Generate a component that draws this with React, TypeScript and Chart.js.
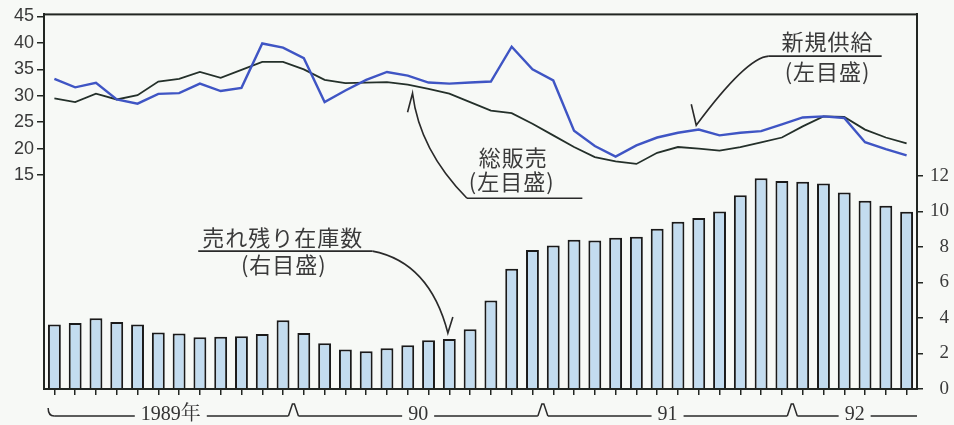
import React, { useEffect, useRef } from 'react';
import { Chart, registerables } from 'chart.js';

Chart.register(...registerables);

// ---- data ----
const months: string[] = [
  '1989/01', '1989/02', '1989/03', '1989/04', '1989/05', '1989/06', '1989/07', '1989/08', '1989/09', '1989/10', '1989/11', '1989/12',
  '1990/01', '1990/02', '1990/03', '1990/04', '1990/05', '1990/06', '1990/07', '1990/08', '1990/09', '1990/10', '1990/11', '1990/12',
  '1991/01', '1991/02', '1991/03', '1991/04', '1991/05', '1991/06', '1991/07', '1991/08', '1991/09', '1991/10', '1991/11', '1991/12',
  '1992/01', '1992/02', '1992/03', '1992/04', '1992/05', '1992/06',
];

// 売れ残り在庫数 (右目盛)
const inventory: number[] = [
  3.63, 3.72, 3.98, 3.78, 3.63, 3.18, 3.12, 2.92, 2.95, 2.97, 3.10, 3.87,
  3.16, 2.58, 2.22, 2.13, 2.30, 2.47, 2.75, 2.82, 3.37, 4.99, 6.77, 7.83,
  8.08, 8.41, 8.36, 8.52, 8.58, 9.03, 9.42, 9.63, 10.0, 10.92, 11.87, 11.72,
  11.67, 11.57, 11.07, 10.6, 10.32, 9.98,
];

// 新規供給 (左目盛)
const newSupply: number[] = [
  33.2, 31.6, 32.45, 29.3, 28.5, 30.35, 30.5, 32.3, 30.9, 31.5, 39.9, 39.1,
  37.1, 28.8, 31.0, 33.0, 34.5, 33.8, 32.5, 32.3, 32.5, 32.7, 39.3, 35.0,
  32.9, 23.4, 20.5, 18.5, 20.6, 22.1, 23.0, 23.6, 22.5, 23.0, 23.3, 24.6,
  25.9, 26.1, 25.8, 21.2, 19.9, 18.7,
];

// 総販売 (左目盛)
const totalSales: number[] = [
  29.5, 28.8, 30.4, 29.3, 30.1, 32.7, 33.2, 34.5, 33.4, 34.9, 36.4, 36.4,
  35.0, 33.0, 32.4, 32.5, 32.6, 32.1, 31.3, 30.4, 28.8, 27.2, 26.7, 24.7,
  22.5, 20.3, 18.4, 17.6, 17.1, 19.2, 20.3, 20.0, 19.6, 20.3, 21.2, 22.1,
  24.2, 26.1, 26.0, 23.6, 22.1, 21.0,
];

const leftTicks: number[] = [15, 20, 25, 30, 35, 40, 45];
const rightTicks: number[] = [0, 2, 4, 6, 8, 10, 12];
const yearLabels: string[] = ['1989年', '90', '91', '92'];
const yearBoundaries: number[] = [-0.3, 11.5, 23.5, 35.5];

// annotation placements in (category index, left-axis value)
type Note = {
  lines: string[];
  textAt: [number, number][];
  underline: [[number, number], [number, number]];
  curve: [[number, number], [number, number], [number, number]];
  barb: [number, number];
};
const notes: Note[] = [
  {
    lines: ['新規供給', '(左目盛)'],
    textAt: [[37.2, 40.3], [37.2, 34.6]],
    underline: [[34.37, 37.5], [39.8, 37.5]],
    curve: [[34.37, 37.5], [33.3, 37.27], [30.88, 24.41]],
    barb: [30.64, 28.4],
  },
  {
    lines: ['総販売', '(左目盛)'],
    textAt: [[22.07, 18.35], [22.0, 13.83]],
    underline: [[19.85, 10.61], [25.4, 10.61]],
    curve: [[19.85, 10.61], [17.57, 19.69], [17.23, 30.46]],
    barb: [16.99, 26.87],
  },
  {
    lines: ['売れ残り在庫数', '(右目盛)'],
    textAt: [[10.99, 3.06], [11.04, -2.05]],
    underline: [[6.92, 0.6], [15.3, 0.6]],
    curve: [[15.3, 0.6], [18.05, -1.48], [18.93, -14.9]],
    barb: [19.17, -11.88],
  },
];

const INK = '#222622';
const TEXT = '#3a3a3a';

const decorPlugin = {
  id: 'decor',
  beforeDraw(chart: any) {
    const { ctx, width, height } = chart;
    ctx.save();
    ctx.fillStyle = '#f7f9f6';
    ctx.fillRect(0, 0, width, height);
    ctx.restore();
  },
  afterDraw(chart: any) {
    const { ctx, chartArea: a, scales } = chart;
    const xs = scales.x;
    const ys = scales.y;
    const P = (i: number, v: number): [number, number] => [xs.getPixelForValue(i), ys.getPixelForValue(v)];
    ctx.save();
    // frame
    ctx.strokeStyle = INK;
    ctx.lineWidth = 2;
    ctx.strokeRect(a.left, a.top, a.right - a.left, a.bottom - a.top);

    // annotations
    ctx.lineWidth = 1.6;
    ctx.strokeStyle = '#2a2a2a';
    ctx.fillStyle = TEXT;
    ctx.font = '22px "Noto Sans CJK JP"';
    (ctx as any).letterSpacing = '1px';
    ctx.textAlign = 'center';
    ctx.textBaseline = 'middle';
    notes.forEach((n) => {
      n.lines.forEach((t, k) => {
        const [x, y] = P(n.textAt[k][0], n.textAt[k][1]);
        ctx.fillText(t, x, y);
      });
      const u0 = P(n.underline[0][0], n.underline[0][1]);
      const u1 = P(n.underline[1][0], n.underline[1][1]);
      ctx.beginPath();
      ctx.moveTo(u0[0], u0[1]);
      ctx.lineTo(u1[0], u1[1]);
      ctx.stroke();
      const c0 = P(n.curve[0][0], n.curve[0][1]);
      const c1 = P(n.curve[1][0], n.curve[1][1]);
      const c2 = P(n.curve[2][0], n.curve[2][1]);
      const b = P(n.barb[0], n.barb[1]);
      ctx.beginPath();
      ctx.moveTo(c0[0], c0[1]);
      ctx.quadraticCurveTo(c1[0], c1[1], c2[0], c2[1]);
      ctx.lineTo(b[0], b[1]);
      ctx.stroke();
    });

    // year axis
    (ctx as any).letterSpacing = '0px';
    const yL = a.bottom + 27;
    ctx.font = '20px "Liberation Serif", "Noto Serif CJK JP", "Noto Sans CJK JP"';
    ctx.fillStyle = '#333';
    ctx.strokeStyle = '#2a2a2a';
    ctx.lineWidth = 1.5;
    const bounds = yearBoundaries.map((v) => xs.getPixelForValue(v));
    bounds.push(a.right);
    // hook at start
    ctx.beginPath();
    ctx.moveTo(bounds[0], yL - 8);
    ctx.quadraticCurveTo(bounds[0], yL, bounds[0] + 6, yL);
    ctx.stroke();
    for (let j = 0; j < yearLabels.length; j++) {
      const s = bounds[j] + (j === 0 ? 6 : 5);
      const e = bounds[j + 1] - (j === yearLabels.length - 1 ? 0 : 5);
      const mid = (bounds[j] + bounds[j + 1]) / 2;
      const w = ctx.measureText(yearLabels[j]).width;
      ctx.fillText(yearLabels[j], mid, yL - 1);
      ctx.beginPath();
      ctx.moveTo(s, yL);
      ctx.lineTo(mid - w / 2 - 6, yL);
      ctx.moveTo(mid + w / 2 + 6, yL);
      ctx.lineTo(e, yL);
      ctx.stroke();
    }
    for (let j = 1; j < yearLabels.length; j++) {
      const bx = bounds[j];
      ctx.beginPath();
      ctx.moveTo(bx - 5, yL);
      ctx.lineTo(bx - 1, yL - 12);
      ctx.lineTo(bx + 1, yL - 12);
      ctx.lineTo(bx + 5, yL);
      ctx.stroke();
    }
    ctx.restore();
  },
};

export default function App() {
  const ref = useRef<HTMLCanvasElement | null>(null);
  useEffect(() => {
    document.body.style.margin = '0';
    const canvas = ref.current;
    if (!canvas) return;
    const chart = new Chart(canvas, {
      type: 'bar',
      data: {
        labels: months,
        datasets: [
          {
            type: 'line',
            label: '新規供給',
            data: newSupply,
            yAxisID: 'y',
            borderColor: '#3f55c4',
            borderWidth: 2.4,
            pointRadius: 0,
            tension: 0,
            fill: false,
            order: 0,
          } as any,
          {
            type: 'line',
            label: '総販売',
            data: totalSales,
            yAxisID: 'y',
            borderColor: '#24302a',
            borderWidth: 1.8,
            pointRadius: 0,
            tension: 0,
            fill: false,
            order: 1,
          } as any,
          {
            type: 'bar',
            label: '売れ残り在庫数',
            data: inventory,
            yAxisID: 'y1',
            backgroundColor: '#c3dcef',
            borderColor: '#1a1a1a',
            borderWidth: 2,
            borderSkipped: 'start',
            barPercentage: 0.62,
            categoryPercentage: 1.0,
            order: 2,
          } as any,
        ],
      },
      options: {
        responsive: false,
        animation: false,
        devicePixelRatio: 1,
        layout: { padding: { top: 14, left: 0, right: 5, bottom: 0 } },
        plugins: {
          legend: { display: false },
          tooltip: { enabled: false },
          title: { display: false },
        },
        scales: {
          x: {
            type: 'category',
            offset: true,
            grid: { display: true, drawOnChartArea: false, offset: false, tickLength: 6, color: INK, lineWidth: 1.5 },
            border: { display: true, color: INK, width: 2 },
            ticks: { display: false },
            afterFit: (s: any) => { s.height = 36; },
          },
          y: {
            type: 'linear',
            position: 'left',
            min: -25.5,
            max: 45.4,
            afterBuildTicks: (s: any) => { s.ticks = leftTicks.map((v) => ({ value: v })); },
            afterFit: (s: any) => { s.width = 44; },
            grid: { drawOnChartArea: false, tickLength: 7, color: INK, lineWidth: 1.5 },
            border: { display: true, color: INK, width: 2 },
            ticks: { padding: 3, color: TEXT, font: { family: '"Liberation Sans"', size: 18 } },
          },
          y1: {
            type: 'linear',
            position: 'right',
            min: 0,
            max: 21.1,
            afterBuildTicks: (s: any) => { s.ticks = rightTicks.map((v) => ({ value: v })); },
            afterFit: (s: any) => { s.width = 32; },
            grid: { drawOnChartArea: false, tickLength: 6, color: INK, lineWidth: 1.5 },
            border: { display: true, color: INK, width: 2 },
            ticks: { padding: 3, crossAlign: 'far', color: TEXT, font: { family: '"Liberation Serif"', size: 19 } },
          },
        },
      },
      plugins: [decorPlugin],
    } as any);
    return () => chart.destroy();
  }, []);
  return (
    <div style={{ width: 954, height: 425 }}>
      <canvas ref={ref} width={954} height={425} style={{ display: 'block', width: 954, height: 425 }} />
    </div>
  );
}
